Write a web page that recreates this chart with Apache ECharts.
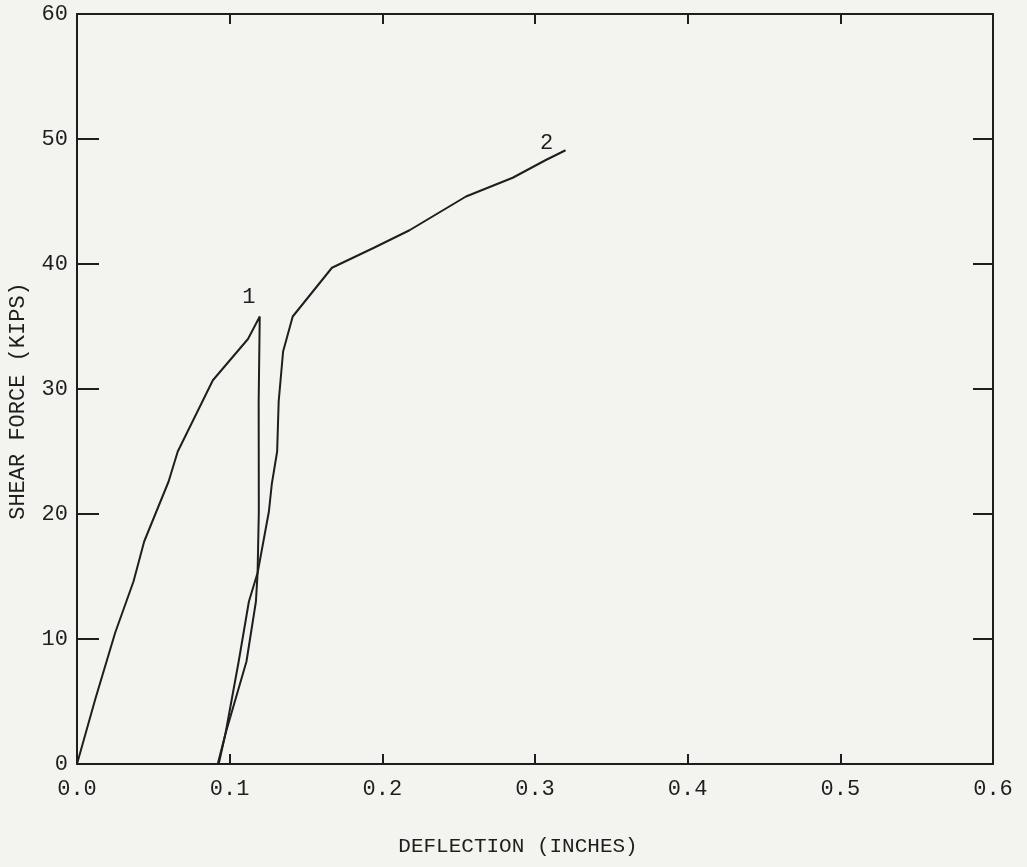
<!DOCTYPE html>
<html>
<head>
<meta charset="utf-8">
<script src="https://cdn.jsdelivr.net/npm/echarts@6/dist/echarts.min.js"></script>
<style>
  html, body { margin: 0; padding: 0; background: #f3f3ef; }
  #chart { width: 1027px; height: 867px; }
</style>
</head>
<body>
<div id="chart"></div>
<script>
// Test 1: loading to peak, then unloading
const test1Deflection = [0, 0.012, 0.025, 0.037, 0.044, 0.060, 0.066, 0.089, 0.112, 0.1197,
                         0.119, 0.1191, 0.1183, 0.1172, 0.111, 0.0972, 0.0928];
const test1Shear      = [0, 5.2, 10.5, 14.6, 17.8, 22.6, 25.0, 30.7, 34.0, 35.8,
                         29.0, 20.2, 15.3, 13.0, 8.2, 2.4, 0];

// Test 2: reloading from residual deflection
const test2Deflection = [0.0922, 0.0972, 0.1059, 0.1126, 0.1183, 0.1257, 0.1276, 0.1311, 0.1321,
                         0.135, 0.1413, 0.167, 0.1945, 0.2178, 0.2548, 0.2854, 0.3068, 0.320];
const test2Shear      = [0, 2.4, 8.2, 13.0, 15.3, 20.2, 22.4, 25.0, 29.0,
                         33.0, 35.8, 39.7, 41.3, 42.7, 45.4, 46.9, 48.3, 49.1];

const curveNames = ['1', '2'];
const xTickLabels = ['0.0', '0.1', '0.2', '0.3', '0.4', '0.5', '0.6'];
const yTickLabels = ['0', '10', '20', '30', '40', '50', '60'];

const ink = '#1e1e1e';
const mono = '"Liberation Mono", "DejaVu Sans Mono", monospace';

function pairs(xs, ys) { return xs.map((x, i) => [x, ys[i]]); }

// curve numbers sit at the peak of test 1 and the last point of test 2
const peakIdx = test1Shear.indexOf(Math.max(...test1Shear));
const endIdx = test2Shear.length - 1;
const curveTags = [
  { value: [test1Deflection[peakIdx], test1Shear[peakIdx]], name: curveNames[0],
    label: { offset: [-11, -3] } },
  { value: [test2Deflection[endIdx], test2Shear[endIdx]], name: curveNames[1],
    label: { offset: [-19, 9] } }
];

const axisLine = { show: true, onZero: false, lineStyle: { color: ink, width: 2 } };
const tick = (len) => ({ show: true, inside: true, length: len, lineStyle: { color: ink, width: 2 } });

const chart = echarts.init(document.getElementById('chart'), null, { renderer: 'canvas' });
chart.setOption({
  backgroundColor: '#f3f3ef',
  animation: false,
  grid: { left: 77, right: 34, top: 14, bottom: 103, outerBoundsMode: 'none', containLabel: false },
  xAxis: [
    {
      type: 'value', min: 0, max: 0.6, interval: 0.1, position: 'bottom',
      name: 'DEFLECTION (INCHES)', nameLocation: 'middle', nameGap: 72,
      nameTextStyle: { color: ink, fontFamily: mono, fontSize: 21, padding: [0, 34, 0, 0] },
      axisLine: axisLine,
      axisTick: tick(10),
      axisLabel: { color: ink, fontFamily: mono, fontSize: 22, margin: 14,
                   formatter: (v) => xTickLabels[Math.round(v * 10)] },
      splitLine: { show: false }
    },
    {
      type: 'value', min: 0, max: 0.6, interval: 0.1, position: 'top',
      axisLine: axisLine,
      axisTick: tick(10),
      axisLabel: { show: false },
      splitLine: { show: false }
    }
  ],
  yAxis: [
    {
      type: 'value', min: 0, max: 60, interval: 10, position: 'left',
      name: 'SHEAR FORCE (KIPS)', nameLocation: 'middle', nameGap: 48, nameRotate: 90,
      nameTextStyle: { color: ink, fontFamily: mono, fontSize: 22, padding: [0, 24, 0, 0] },
      axisLine: axisLine,
      axisTick: tick(22),
      axisLabel: { color: ink, fontFamily: mono, fontSize: 22, margin: 9,
                   formatter: (v) => yTickLabels[Math.round(v / 10)] },
      splitLine: { show: false }
    },
    {
      type: 'value', min: 0, max: 60, interval: 10, position: 'right',
      axisLine: axisLine,
      axisTick: tick(20),
      axisLabel: { show: false },
      splitLine: { show: false }
    }
  ],
  series: [
    {
      name: curveNames[0], type: 'line', data: pairs(test1Deflection, test1Shear),
      showSymbol: false, symbol: 'none',
      lineStyle: { color: ink, width: 2 }, itemStyle: { color: ink }
    },
    {
      name: curveNames[1], type: 'line', data: pairs(test2Deflection, test2Shear),
      showSymbol: false, symbol: 'none',
      lineStyle: { color: ink, width: 2 }, itemStyle: { color: ink }
    },
    {
      name: 'curve numbers', type: 'scatter', data: curveTags,
      symbolSize: 1, itemStyle: { color: 'rgba(0,0,0,0)', opacity: 1 }, silent: true,
      label: { show: true, position: 'top', formatter: (p) => p.name,
               color: ink, fontFamily: mono, fontSize: 22 }
    }
  ]
});
</script>
</body>
</html>
